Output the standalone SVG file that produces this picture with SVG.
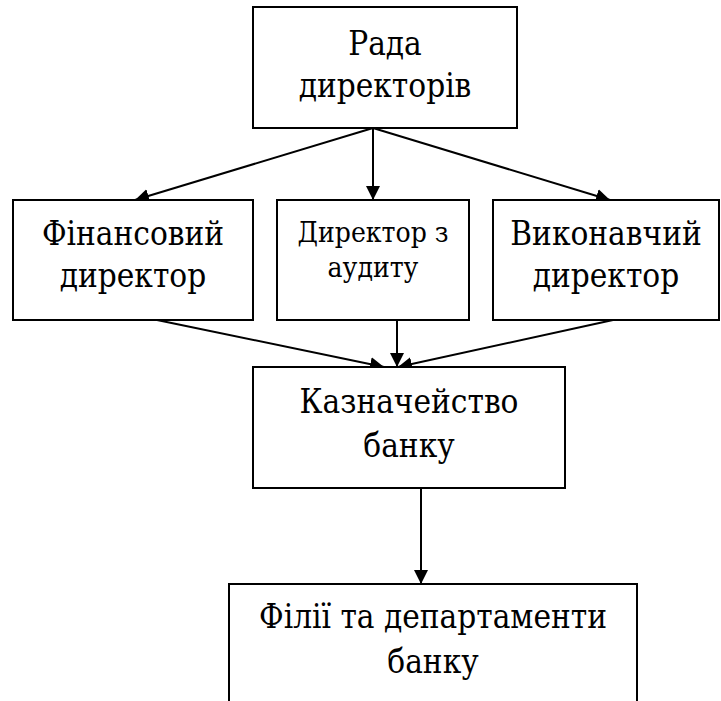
<svg xmlns="http://www.w3.org/2000/svg" width="721" height="701" viewBox="0 0 721 701">
<defs>
<marker id="ah" markerUnits="userSpaceOnUse" markerWidth="14" markerHeight="14" viewBox="0 0 14 14" refX="14" refY="7" orient="auto">
<path d="M0,0 L14,7 L0,14 Z" fill="#000"/>
</marker>
</defs>
<rect width="721" height="701" fill="#fff"/>
<g id="connectors" stroke="#000" stroke-width="2" fill="none" marker-end="url(#ah)">
<line x1="373" y1="128" x2="135" y2="200"/>
<line x1="373" y1="128" x2="373" y2="200"/>
<line x1="373" y1="128" x2="610" y2="200"/>
<line x1="157" y1="320" x2="384" y2="367"/>
<line x1="397" y1="320" x2="397" y2="367"/>
<line x1="613" y1="320" x2="398" y2="367"/>
<line x1="421" y1="488" x2="421" y2="584"/>
</g>
<g id="nodes" fill="#fff" stroke="#000" stroke-width="2">
<rect id="rada-box" x="253" y="7" width="264" height="121"/>
<rect id="finansovyi-box" x="13" y="200" width="240" height="120"/>
<rect id="audyt-box" x="277" y="200" width="192" height="120"/>
<rect id="vykonavchyi-box" x="493" y="200" width="226" height="120"/>
<rect id="kaznacheistvo-box" x="253" y="367" width="312" height="121"/>
<rect id="filii-box" x="229" y="584" width="408" height="130"/>
</g>
<g id="labels" font-family="DejaVu Serif Condensed, DejaVu Serif, serif" font-size="33" fill="#000" text-anchor="middle">
<g id="rada">
<text x="385" y="55">Рада</text>
<text x="385" y="97">директорів</text>
</g>
<g id="finansovyi">
<text x="133" y="245">Фінансовий</text>
<text x="133" y="287">директор</text>
</g>
<g id="audyt" font-size="28">
<text x="373" y="242">Директор з</text>
<text x="373" y="277">аудиту</text>
</g>
<g id="vykonavchyi">
<text x="606" y="245">Виконавчий</text>
<text x="606" y="287">директор</text>
</g>
<g id="kaznacheistvo">
<text x="409" y="413">Казначейство</text>
<text x="409" y="457">банку</text>
</g>
<g id="filii">
<text x="433" y="628">Філії та департаменти</text>
<text x="433" y="673">банку</text>
</g>
</g>
</svg>
